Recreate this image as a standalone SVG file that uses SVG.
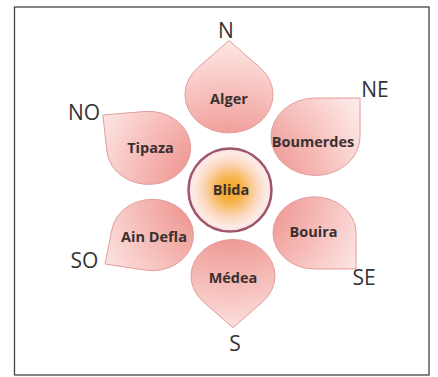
<svg xmlns="http://www.w3.org/2000/svg" width="438" height="377" viewBox="0 0 438 377">
<defs>
<radialGradient id="petalGrad" gradientUnits="userSpaceOnUse" cx="230" cy="190" r="150">
<stop offset="0.28" stop-color="#ee9590"/>
<stop offset="0.6" stop-color="#f5b8b4"/>
<stop offset="1" stop-color="#fde8e6"/>
</radialGradient>
<radialGradient id="coreGrad" cx="0.5" cy="0.5" r="0.5">
<stop offset="0" stop-color="#f4a019"/>
<stop offset="0.35" stop-color="#f7b550"/>
<stop offset="0.75" stop-color="#fbd9c2"/>
<stop offset="1" stop-color="#fdece6"/>
</radialGradient>
<style>
.petal{fill:url(#petalGrad);stroke:#e39c9c;stroke-width:1}
.lbl{font-family:"Open Sans","Liberation Sans",sans-serif;font-weight:bold;font-size:14.5px;fill:#3a3030;text-anchor:middle}
.dir{font-family:"Open Sans","Liberation Sans",sans-serif;font-size:21px;fill:#333333;text-anchor:middle}
</style>
</defs>
<rect x="14.5" y="7" width="414.5" height="368" fill="#ffffff" stroke="#444444" stroke-width="1.3"/>
<g id="connectors"></g>
<g id="alger">
<path class="petal" d="M229,40.6 L260.1,67.6 A44,38.28 0 1 1 197.9,67.6 Z"/>
<text class="lbl" x="229" y="103.5">Alger</text>
</g>
<g id="boumerdes">
<path class="petal" d="M360,98 L360,136.7 A44.5,38.72 0 1 1 315.5,98 Z"/>
<text class="lbl" x="313" y="146.5">Boumerdes</text>
</g>
<g id="bouira">
<path class="petal" d="M356,269 L314.5,269 A41.5,36.1 0 1 1 356,232.9 Z"/>
<text class="lbl" x="313.5" y="237">Bouira</text>
</g>
<g id="medea">
<path class="petal" d="M233,327.7 L203.3,301.8 A42,36.54 0 1 1 262.7,301.8 Z"/>
<text class="lbl" x="233" y="282.5">Médea</text>
</g>
<g id="aindefla">
<path class="petal" d="M105,264 L112.1,228.8 A41,35.67 0 1 1 145.4,270.1 Z"/>
<text class="lbl" x="154" y="242">Ain Defla</text>
</g>
<g id="tipaza">
<path class="petal" d="M102.9,115 L144.75,111.5 A42,36.54 0 1 1 106.9,151.3 Z"/>
<text class="lbl" x="150.5" y="153">Tipaza</text>
</g>
<g id="blida">
<circle cx="230" cy="190" r="41.5" fill="#fbe6e8" stroke="#a0566a" stroke-width="2.5"/>
<circle cx="230" cy="190" r="37.5" fill="url(#coreGrad)"/>
<text class="lbl" x="231" y="195">Blida</text>
</g>
<g id="labels">
<text class="dir" x="226" y="38">N</text>
<text class="dir" x="375" y="97">NE</text>
<text class="dir" x="84" y="120">NO</text>
<text class="dir" x="84.5" y="268">SO</text>
<text class="dir" x="364" y="285">SE</text>
<text class="dir" x="235" y="351">S</text>
</g>
</svg>
